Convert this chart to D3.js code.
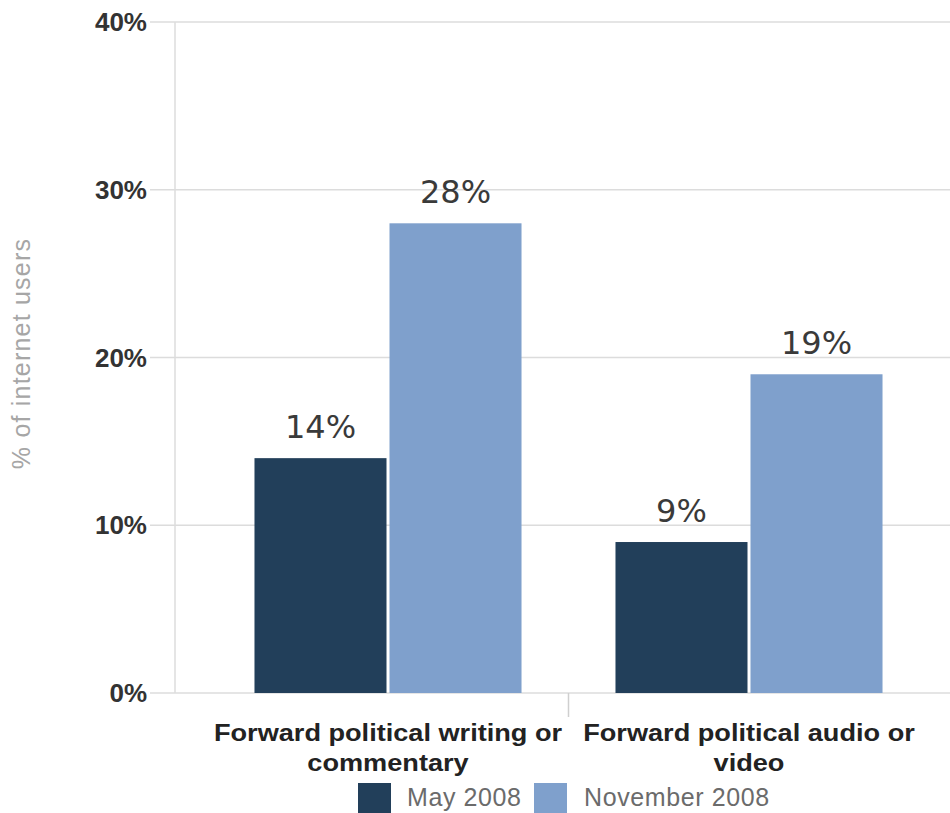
<!DOCTYPE html>
<html>
<head>
<meta charset="utf-8">
<script src="https://cdn.jsdelivr.net/npm/d3@7"></script>
<style>
  html, body { margin: 0; padding: 0; background: #fff; }
  svg { display: block; }
</style>
</head>
<body>
<svg id="chart" width="950" height="813"></svg>
<script>
const categories = ["Forward political writing or commentary", "Forward political audio or video"];
const categoryLines = [["Forward political writing or", "commentary"], ["Forward political audio or", "video"]];
const seriesNames = ["May 2008", "November 2008"];
const may2008 = [14, 9];
const nov2008 = [28, 19];
const yTicks = [0, 10, 20, 30, 40];
const yTickLabels = ["0%", "10%", "20%", "30%", "40%"];
const valueLabels = [["14%", "9%"], ["28%", "19%"]];
const yTitle = "% of internet users";

const colors = ["#223f5a", "#7fa0cc"];
const seriesValues = [may2008, nov2008];

const svg = d3.select("#chart");

const y = d3.scaleLinear().domain([0, 40]).range([693, 22]);
const x0 = d3.scaleBand().domain(categories).range([207.5, 929.5]).padding(0);
const x1 = d3.scaleBand().domain(seriesNames).range([0, x0.bandwidth()])
  .paddingInner(0.0222).paddingOuter(0.348);

// gridlines
svg.append("g").selectAll("line").data(yTicks).join("line")
  .attr("x1", 150).attr("x2", 950)
  .attr("y1", d => y(d)).attr("y2", d => y(d))
  .attr("stroke", "#dcdcdc").attr("stroke-width", 1.5);

// left axis line
svg.append("line")
  .attr("x1", 175).attr("x2", 175).attr("y1", y(40)).attr("y2", y(0))
  .attr("stroke", "#dcdcdc").attr("stroke-width", 1.5);

// category separator tick
svg.append("line")
  .attr("x1", x0.range()[0] + x0.step()).attr("x2", x0.range()[0] + x0.step())
  .attr("y1", y(0)).attr("y2", y(0) + 24)
  .attr("stroke", "#cfcfcf").attr("stroke-width", 1.5);

// y tick labels
svg.append("g").selectAll("text").data(yTicks).join("text")
  .attr("x", 147).attr("y", d => y(d))
  .attr("dy", "0.35em")
  .attr("text-anchor", "end")
  .attr("font-family", "Liberation Sans, Arial, sans-serif")
  .attr("font-weight", "bold").attr("font-size", 26)
  .attr("fill", "#333")
  .text((d, i) => yTickLabels[i]);

// y title
svg.append("text")
  .attr("transform", `translate(30, ${(237 + 470) / 2}) rotate(-90)`)
  .attr("text-anchor", "middle")
  .attr("font-family", "Liberation Sans, Arial, sans-serif")
  .attr("font-size", 25).attr("letter-spacing", 1.2)
  .attr("fill", "#a6a6a6")
  .text(yTitle);

// bars
const groups = svg.append("g").selectAll("g").data(categories).join("g")
  .attr("transform", d => `translate(${x0(d)},0)`);

groups.each(function (cat, ci) {
  const g = d3.select(this);
  seriesNames.forEach((s, si) => {
    const v = seriesValues[si][ci];
    g.append("rect")
      .attr("x", x1(s)).attr("width", x1.bandwidth())
      .attr("y", y(v)).attr("height", y(0) - y(v))
      .attr("fill", colors[si]);
    g.append("text")
      .attr("x", x1(s) + x1.bandwidth() / 2)
      .attr("y", y(v) - 20)
      .attr("text-anchor", "middle")
      .attr("font-family", "DejaVu Sans, Verdana, sans-serif")
      .attr("font-size", 32)
      .attr("fill", "#3a3a3a")
      .text(valueLabels[si][ci]);
  });
});

// category labels
const catG = svg.append("g").selectAll("g").data(categories).join("g")
  .attr("transform", d => `translate(${x0(d) + x0.bandwidth() / 2},0)`);
catG.each(function (cat, ci) {
  const g = d3.select(this);
  categoryLines[ci].forEach((line, li) => {
    g.append("text")
      .attr("transform", `translate(0, ${741 + li * 30}) scale(1.18,1)`)
      .attr("text-anchor", "middle")
      .attr("font-family", "Liberation Sans, Arial, sans-serif")
      .attr("font-weight", "bold").attr("font-size", 23)
      .attr("fill", "#222")
      .text(line);
  });
});

// legend
const legendItems = [
  { name: seriesNames[0], sx: 358, tx: 407 },
  { name: seriesNames[1], sx: 534, tx: 584 }
];
const lg = svg.append("g");
legendItems.forEach((it, i) => {
  lg.append("rect")
    .attr("x", it.sx).attr("y", 783).attr("width", 33).attr("height", 33)
    .attr("fill", colors[i]);
  lg.append("text")
    .attr("x", it.tx).attr("y", 806)
    .attr("font-family", "Liberation Sans, Arial, sans-serif")
    .attr("font-size", 25).attr("letter-spacing", 0.6)
    .attr("fill", "#6b6b6b")
    .text(it.name);
});
</script>
</body>
</html>
